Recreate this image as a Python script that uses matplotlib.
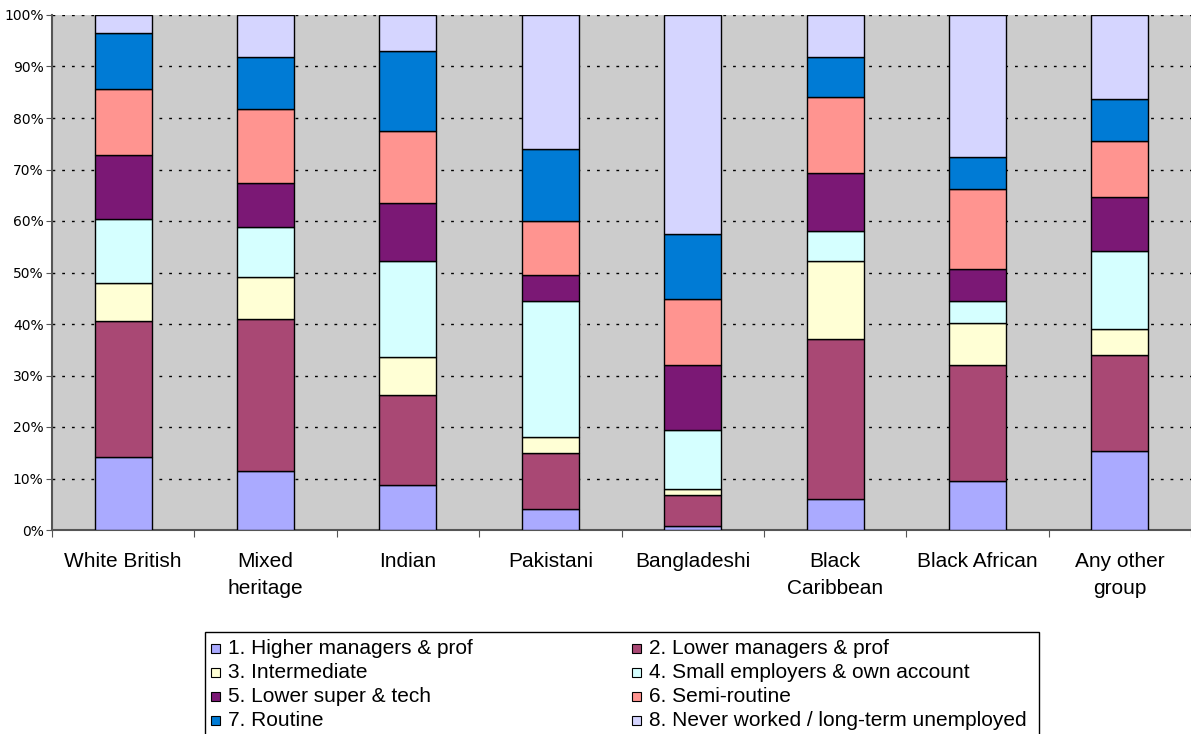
import numpy as np
import matplotlib
matplotlib.use("Agg")
from matplotlib import pyplot as plt
from matplotlib.patches import Rectangle

groups = ["White British", "Mixed\nheritage", "Indian", "Pakistani", "Bangladeshi",
          "Black\nCaribbean", "Black African", "Any other\ngroup"]

labels = ["1. Higher managers & prof", "2. Lower managers & prof", "3. Intermediate",
          "4. Small employers & own account", "5. Lower super & tech", "6. Semi-routine",
          "7. Routine", "8. Never worked / long-term unemployed"]

colors = ["#AAAAFF", "#A94874", "#FFFFD5", "#D5FFFF", "#7B1875", "#FF9490", "#007BD5", "#D5D5FF"]

# percentages per class, one list per class, in group order
higher_mgr = [14.2, 11.5, 8.8, 4.1, 0.7, 6.1, 9.5, 15.4]
lower_mgr = [26.4, 29.5, 17.4, 10.9, 6.1, 31.0, 22.6, 18.6]
intermediate = [7.4, 8.2, 7.4, 3.1, 1.2, 15.1, 8.1, 5.1]
small_emp = [12.4, 9.7, 18.6, 26.4, 11.5, 5.8, 4.3, 15.1]
lower_super = [12.4, 8.5, 11.3, 5.0, 12.6, 11.4, 6.2, 10.5]
semi_routine = [12.8, 14.3, 13.9, 10.5, 12.8, 14.6, 15.5, 10.8]
routine = [10.9, 10.1, 15.6, 14.0, 12.5, 7.8, 6.2, 8.2]
never_worked = [3.5, 8.2, 7.0, 26.0, 42.6, 8.2, 27.6, 16.3]

series = [higher_mgr, lower_mgr, intermediate, small_emp,
          lower_super, semi_routine, routine, never_worked]

W, H = 1191, 734
fig = plt.figure(figsize=(W / 100, H / 100), dpi=100)
ax = fig.add_axes([52 / W, (H - 530) / H, (W - 52) / W, 515 / H])
ax.set_facecolor("#CCCCCC")

x = np.arange(len(groups))
data = np.array(series, dtype=float)
data = data / data.sum(axis=0) * 100  # normalise to 100%
bottom = np.zeros(len(groups))
for i in range(len(series)):
    ax.bar(x, data[i], bottom=bottom, width=0.4, color=colors[i],
           edgecolor="black", linewidth=1, label=labels[i], zorder=3)
    bottom += data[i]

ax.set_xlim(-0.5, len(groups) - 0.5)
ax.set_ylim(0, 100)
ax.set_yticks(np.arange(0, 101, 10))
ax.set_yticklabels([f"{v}%" for v in range(0, 101, 10)], fontsize=10, family="DejaVu Sans")
ax.yaxis.grid(True, linestyle=(0, (2, 5)), color="black", linewidth=1)
ax.set_axisbelow(True)

# category labels between boundary ticks
ax.set_xticks(np.arange(-0.5, len(groups), 1.0))
ax.set_xticklabels([])
ax.set_xticks(x, minor=True)
ax.set_xticklabels(groups, minor=True, fontsize=15, family="Liberation Sans",
                   va="top", linespacing=1.5)
ax.tick_params(axis="x", which="minor", length=0, pad=16)
ax.tick_params(axis="x", which="major", length=5, color="#555555")
ax.tick_params(axis="y", length=4, color="#555555", pad=2)

for s in ["top", "right"]:
    ax.spines[s].set_visible(False)
ax.spines["left"].set_color("#555555")
ax.spines["bottom"].set_color("#555555")
ax.spines["left"].set_linewidth(1.5)
ax.spines["bottom"].set_linewidth(1.5)

# legend box, drawn in pixel coords; it runs off the bottom like the original
def px(xp, yp):
    return xp / W, 1 - yp / H

bx, by = px(205, 632)
fig.patches.append(Rectangle((bx, -0.1), (1039 - 205) / W, by + 0.1,
                             transform=fig.transFigure, facecolor="white",
                             edgecolor="black", linewidth=1, zorder=1))
col_x = [211, 632]
row_y = [648, 672, 696, 720]
for i in range(len(labels)):
    cx = col_x[i % 2]
    cy = row_y[i // 2]
    mx, my = px(cx, cy + 4.5)
    fig.patches.append(Rectangle((mx, my), 9 / W, 9 / H, transform=fig.transFigure,
                                 facecolor=colors[i], edgecolor="black",
                                 linewidth=0.8, zorder=2))
    tx, ty = px(cx + 17, cy)
    fig.text(tx, ty, labels[i], fontsize=15, family="Liberation Sans",
             va="center", ha="left", zorder=3)

fig.savefig("out.png", dpi=100)
